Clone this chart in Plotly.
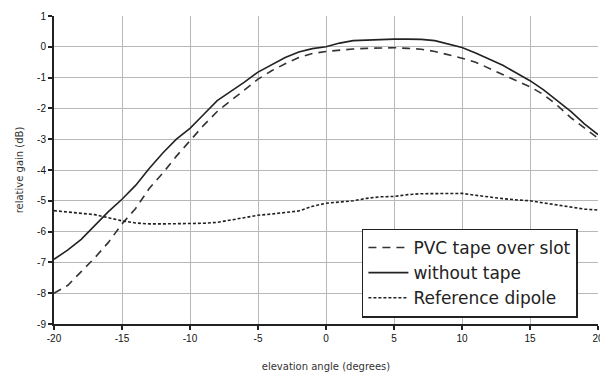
import plotly.graph_objects as go

elevation = list(range(-20, 21))

pvc_tape = [-8.0, -7.75, -7.3, -6.85, -6.35, -5.75, -5.25, -4.6, -4.1, -3.55,
            -3.05, -2.55, -2.1, -1.75, -1.4, -1.05, -0.78, -0.55, -0.35, -0.22,
            -0.15, -0.1, -0.07, -0.05, -0.03, -0.03, -0.05, -0.08, -0.15, -0.25,
            -0.37, -0.5, -0.7, -0.9, -1.1, -1.3, -1.55, -1.9, -2.3, -2.65, -2.97]

without_tape = [-6.9, -6.6, -6.25, -5.8, -5.35, -4.95, -4.5, -3.95, -3.45, -3.0,
                -2.65, -2.2, -1.75, -1.45, -1.15, -0.82, -0.58, -0.35, -0.17, -0.06,
                0.0, 0.12, 0.2, 0.22, 0.24, 0.25, 0.25, 0.24, 0.2, 0.1,
                -0.02, -0.2, -0.4, -0.6, -0.85, -1.1, -1.4, -1.75, -2.1, -2.5, -2.85]

reference_dipole = [-5.32, -5.36, -5.4, -5.45, -5.55, -5.65, -5.72, -5.75, -5.75, -5.75,
                    -5.75, -5.73, -5.7, -5.63, -5.55, -5.47, -5.43, -5.38, -5.33, -5.18,
                    -5.08, -5.04, -5.0, -4.92, -4.87, -4.86, -4.8, -4.77, -4.76, -4.76,
                    -4.76, -4.82, -4.88, -4.93, -4.97, -5.0, -5.07, -5.14, -5.22, -5.27, -5.3]

x_ticks = [-20, -15, -10, -5, 0, 5, 10, 15, 20]
x_tick_labels = ["-20", "-15", "-10", "-5", "0", "5", "10", "15", "20"]
y_ticks = [1, 0, -1, -2, -3, -4, -5, -6, -7, -8, -9]
y_tick_labels = ["1", "0", "-1", "-2", "-3", "-4", "-5", "-6", "-7", "-8", "-9"]

fig = go.Figure()
fig.add_trace(go.Scatter(x=elevation, y=pvc_tape, mode="lines", name="PVC tape over slot",
                         line=dict(color="#333333", width=1.6, dash="8px,6px")))
fig.add_trace(go.Scatter(x=elevation, y=without_tape, mode="lines", name="without tape",
                         line=dict(color="#222222", width=1.6)))
fig.add_trace(go.Scatter(x=elevation, y=reference_dipole, mode="lines", name="Reference dipole",
                         line=dict(color="#222222", width=1.6, dash="3px,2px")))

tickfont = dict(family="Liberation Sans, Arial, sans-serif", size=10, color="#111111")
titlefont = dict(family="DejaVu Sans, Verdana, sans-serif", size=10, color="#333333")

fig.update_xaxes(range=[-20, 20], tickvals=x_ticks, ticktext=x_tick_labels,
                 showgrid=True, gridcolor="#b8b8b8", gridwidth=1,
                 showline=True, linecolor="#222222", linewidth=2,
                 ticks="outside", ticklen=4, tickcolor="#222222", tickwidth=1.5,
                 tickfont=tickfont, zeroline=False, automargin=False,
                 title=dict(text="elevation angle (degrees)", font=titlefont, standoff=20))
fig.update_yaxes(range=[-9, 1], tickvals=y_ticks, ticktext=y_tick_labels,
                 showgrid=True, gridcolor="#b8b8b8", gridwidth=1,
                 showline=True, linecolor="#222222", linewidth=2,
                 ticks="outside", ticklen=4, tickcolor="#222222", tickwidth=1.5,
                 tickfont=tickfont, zeroline=False, automargin=False,
                 title=dict(text="relative gain (dB)", font=titlefont, standoff=12))

# the page body has an 8px margin, so the figure is sized to fit the window
fig.update_layout(
    width=600, height=368,
    margin=dict(l=46, r=10, t=8, b=52),
    paper_bgcolor="white", plot_bgcolor="white",
    showlegend=True,
    legend=dict(x=0.566, y=0.31, xanchor="left", yanchor="top",
                bgcolor="white", bordercolor="#222222", borderwidth=1.5,
                font=dict(family="DejaVu Sans, Verdana, sans-serif", size=17, color="#222222"),
                tracegroupgap=0, itemwidth=40),
)

fig.write_html("out.html")
